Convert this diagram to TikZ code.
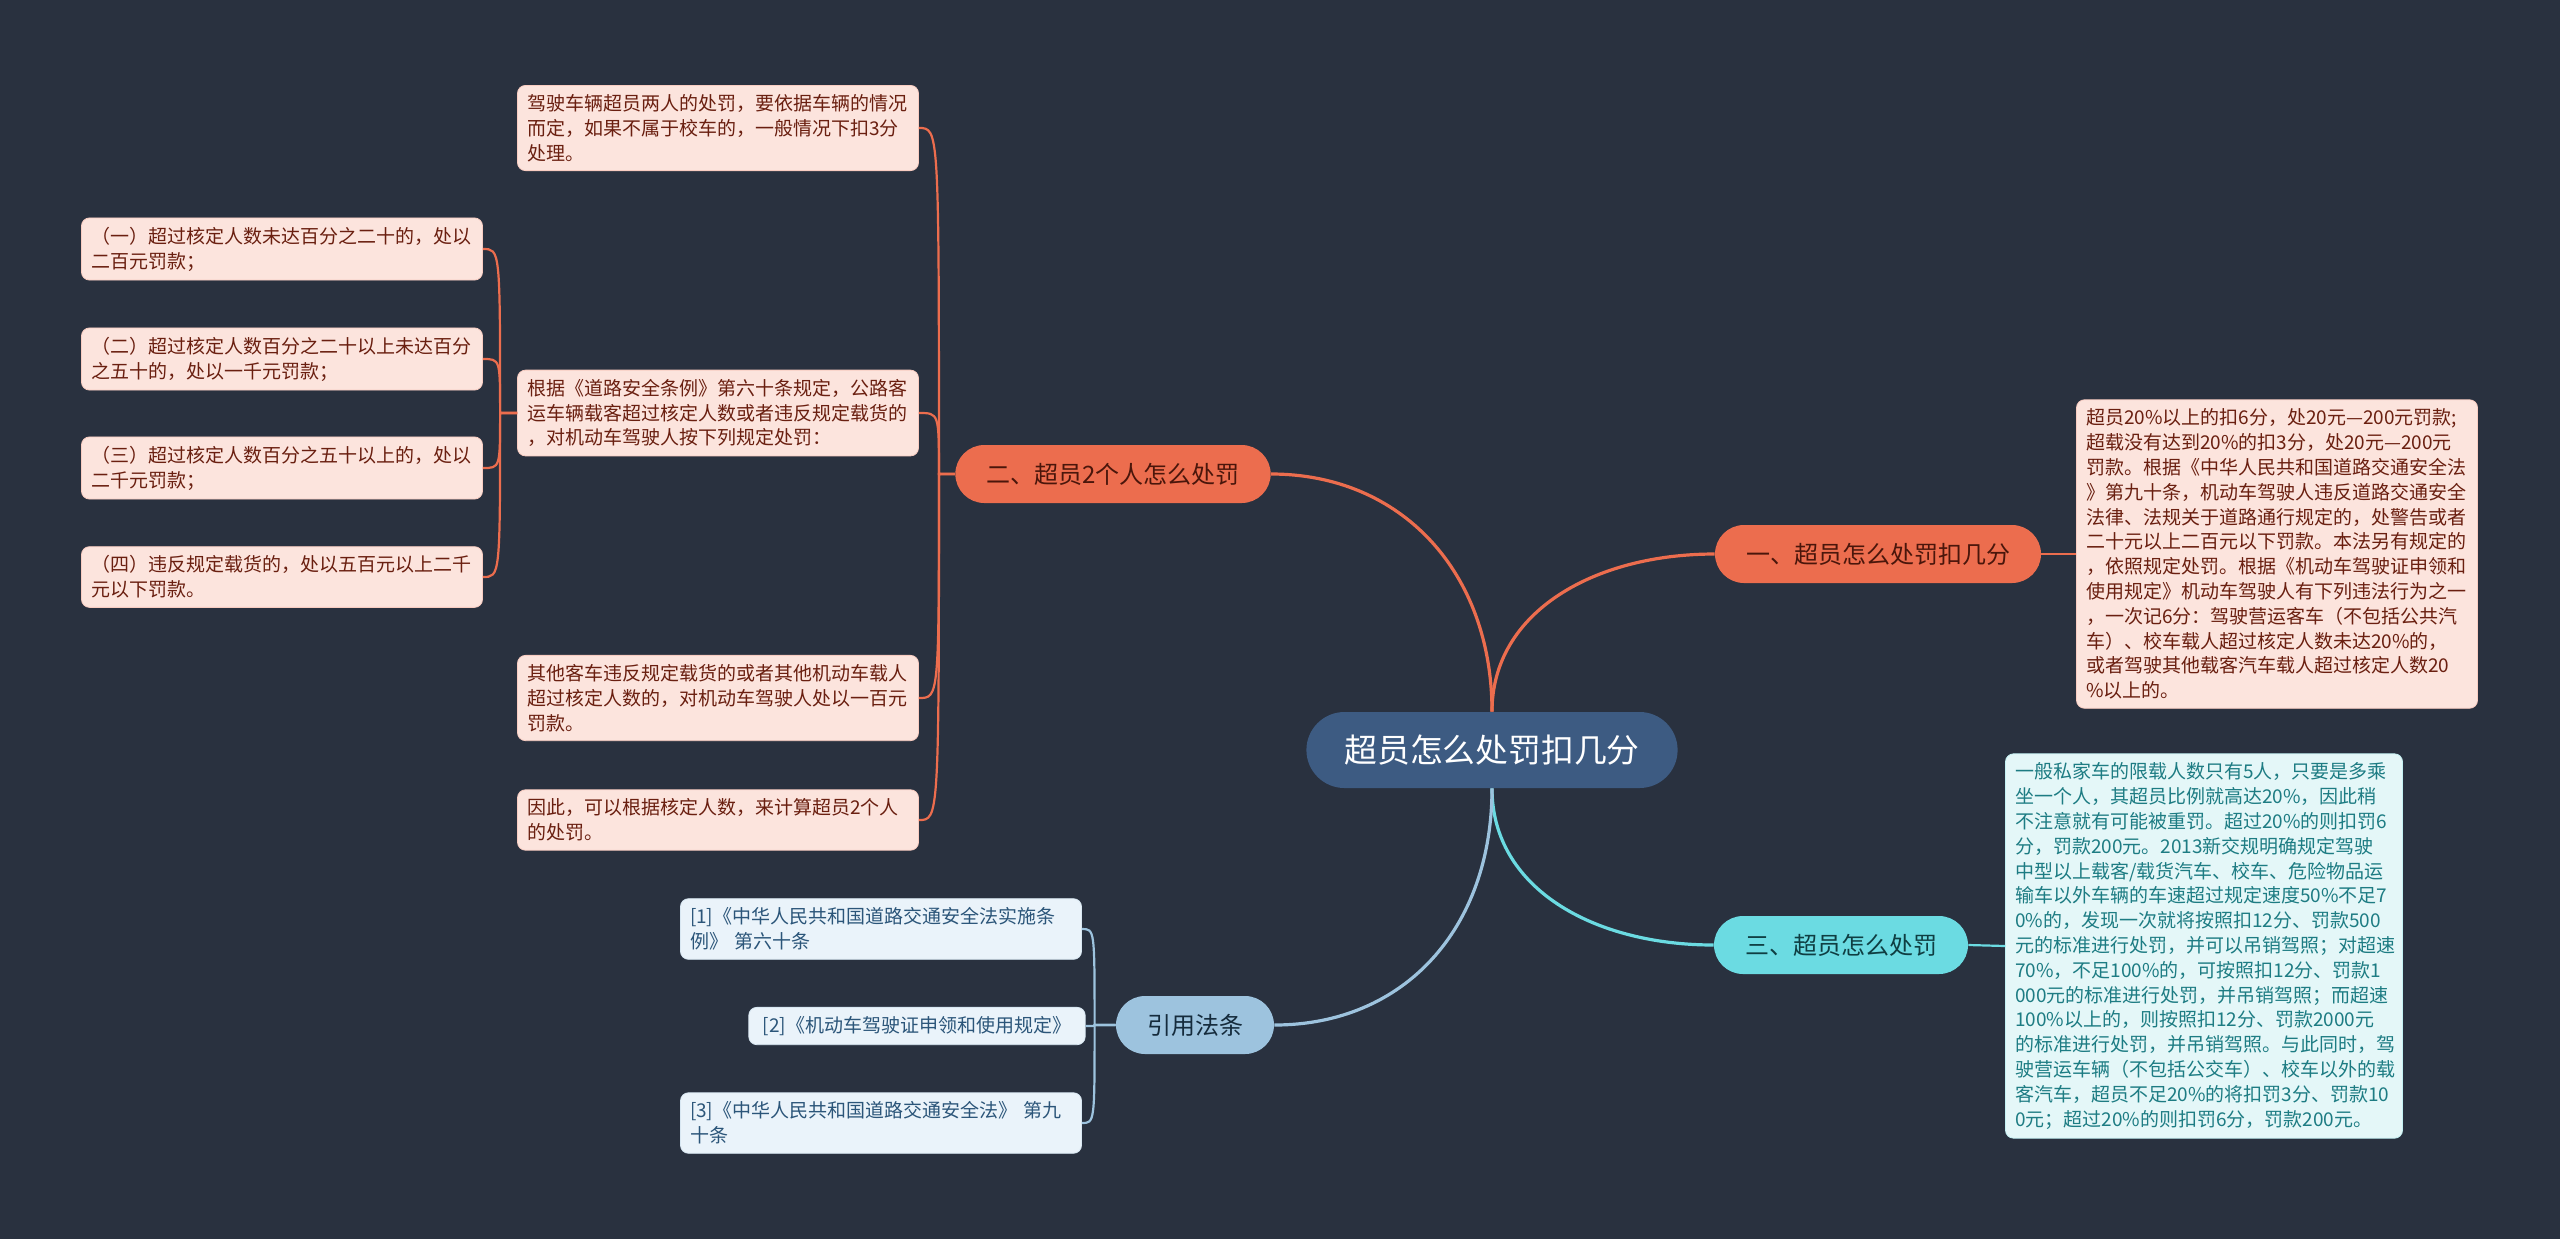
\documentclass[tikz,border=0pt]{standalone}
\usepackage{fontspec}
\setmainfont{Noto Sans CJK SC}
\usetikzlibrary{positioning,calc}
\definecolor{Bg}{HTML}{29313F}
\definecolor{Rootc}{HTML}{3D5B82}
\definecolor{Oc}{HTML}{EC6D4E}
\definecolor{Ofill}{HTML}{FCE4DD}
\definecolor{Otxt}{HTML}{6A1F10}
\definecolor{Cc}{HTML}{6BDBE2}
\definecolor{Cfill}{HTML}{E4F7F8}
\definecolor{Ctxt}{HTML}{1D7C83}
\definecolor{Bc}{HTML}{9DC3DE}
\definecolor{Bfill}{HTML}{EAF3FA}
\definecolor{Btxt}{HTML}{2B5579}
\tikzset{
  root/.style={rectangle, rounded corners=19pt, fill=Rootc, text=white, font=\fontsize{16.4}{18}\selectfont, minimum height=38pt, inner xsep=19pt},
  twig/.style={rectangle, rounded corners=14.5pt, minimum height=29pt, inner xsep=15.5pt, font=\fontsize{12}{14}\selectfont},
  leaf/.style={rectangle, rounded corners=4pt, align=left, text width=191pt, inner xsep=4.75pt, inner ysep=4.5pt, font=\fontsize{9.5}{12.4}\selectfont},
  leafO/.style={leaf, fill=Ofill, draw=Oc!35, text=Otxt},
  leafC/.style={leaf, fill=Cfill, draw=Cc!40, text=Ctxt},
  leafB/.style={leaf, fill=Bfill, draw=Bc!40, text=Btxt},
  trunk/.style={line width=1.6pt},
  wire/.style={line width=1.1pt},
}

\begin{document}
\begin{tikzpicture}[x=0.5pt, y=-0.5pt]
  \useasboundingbox (0,0) rectangle (2560,1239);
  \fill[Bg] (0,0) rectangle (2560,1239);
  % centre and main branches
  \node[root] (root) at (1492,750) {超员怎么处罚扣几分};
  \node[twig, fill=Oc, text=Otxt!70!black] (b2) at (1113,474) {二、超员2个人怎么处罚};
  \node[twig, fill=Oc, text=Otxt!70!black] (b1) at (1878,554) {一、超员怎么处罚扣几分};
  \node[twig, fill=Cc, text=Ctxt!50!black] (b3) at (1841,945) {三、超员怎么处罚};
  \node[twig, fill=Bc, text=Btxt!50!black] (b4) at (1195,1025) {引用法条};
  % branch two
  \node[leafO] (lA) at (718,128) {驾驶车辆超员两人的处罚，要依据车辆的情况\\而定，如果不属于校车的，一般情况下扣3分\\处理。};
  \node[leafO] (lB) at (718,413) {根据《道路安全条例》第六十条规定，公路客\\运车辆载客超过核定人数或者违反规定载货的\\，对机动车驾驶人按下列规定处罚：};
  \node[leafO] (lC) at (718,698) {其他客车违反规定载货的或者其他机动车载人\\超过核定人数的，对机动车驾驶人处以一百元\\罚款。};
  \node[leafO] (lD) at (718,820) {因此，可以根据核定人数，来计算超员2个人\\的处罚。};
  \node[leafO] (s1) at (282,249) {（一）超过核定人数未达百分之二十的，处以\\二百元罚款；};
  \node[leafO] (s2) at (282,359) {（二）超过核定人数百分之二十以上未达百分\\之五十的，处以一千元罚款；};
  \node[leafO] (s3) at (282,468) {（三）超过核定人数百分之五十以上的，处以\\二千元罚款；};
  \node[leafO] (s4) at (282,577) {（四）违反规定载货的，处以五百元以上二千\\元以下罚款。};
  % branch one
  \node[leafO] (r1) at (2277,554) {超员20\%以上的扣6分，处20元—200元罚款;\\超载没有达到20\%的扣3分，处20元—200元\\罚款。根据《中华人民共和国道路交通安全法\\》第九十条，机动车驾驶人违反道路交通安全\\法律、法规关于道路通行规定的，处警告或者\\二十元以上二百元以下罚款。本法另有规定的\\，依照规定处罚。根据《机动车驾驶证申领和\\使用规定》机动车驾驶人有下列违法行为之一\\，一次记6分：驾驶营运客车（不包括公共汽\\车）、校车载人超过核定人数未达20\%的，\\或者驾驶其他载客汽车载人超过核定人数20\\\%以上的。};
  % branch three
  \node[leafC, text width=189pt] (r3) at (2204,946) {一般私家车的限载人数只有5人，只要是多乘\\坐一个人，其超员比例就高达20\%，因此稍\\不注意就有可能被重罚。超过20\%的则扣罚6\\分，罚款200元。2013新交规明确规定驾驶\\中型以上载客/载货汽车、校车、危险物品运\\输车以外车辆的车速超过规定速度50\%不足7\\0\%的，发现一次就将按照扣12分、罚款500\\元的标准进行处罚，并可以吊销驾照；对超速\\70\%，不足100\%的，可按照扣12分、罚款1\\000元的标准进行处罚，并吊销驾照；而超速\\100\%以上的，则按照扣12分、罚款2000元\\的标准进行处罚，并吊销驾照。与此同时，驾\\驶营运车辆（不包括公交车）、校车以外的载\\客汽车，超员不足20\%的将扣罚3分、罚款10\\0元；超过20\%的则扣罚6分，罚款200元。};
  % citations
  \node[leafB] (c1) at (881,929) {[1]《中华人民共和国道路交通安全法实施条\\例》 第六十条};
  \node[leafB, text width=, inner xsep=7pt] (c2) at (917,1026) {[2]《机动车驾驶证申领和使用规定》};
  \node[leafB] (c3) at (881,1123) {[3]《中华人民共和国道路交通安全法》 第九\\十条};
  % joints
  \coordinate[left=8pt of b2.west] (j2);
  \coordinate[left=8.5pt of lB.west] (jB);
  \coordinate[left=10.5pt of b4.west] (j4);
  % connectors from centre
  \draw[trunk, Oc] (root.north) .. controls ($(root.north)+(0,-140)$) and ($(b2.east)+(130,0)$) .. (b2.east);
  \draw[trunk, Oc] (root.north) .. controls ($(root.north)+(0,-100)$) and ($(b1.west)+(-120,0)$) .. (b1.west);
  \draw[trunk, Cc] (root.south) .. controls ($(root.south)+(0,100)$) and ($(b3.west)+(-120,0)$) .. (b3.west);
  \draw[trunk, Bc] (root.south) .. controls ($(root.south)+(0,140)$) and ($(b4.east)+(130,0)$) .. (b4.east);
  \draw[wire, Oc] (b1.east) -- (r1.west);
  \draw[wire, Cc] (b3.east) -- (r3.west);
  % leaves
  \foreach \lf in {lA,lB,lC,lD}
    \draw[wire, Oc] (b2.west) -- (j2) .. controls (j2 |- \lf.east) .. (\lf.east);
  \foreach \lf in {s1,s2,s3,s4}
    \draw[wire, Oc] (lB.west) -- (jB) .. controls (jB |- \lf.east) .. (\lf.east);
  \foreach \lf in {c1,c2,c3}
    \draw[wire, Bc] (b4.west) -- (j4) .. controls (j4 |- \lf.east) .. (\lf.east);
\end{tikzpicture}
\end{document}
